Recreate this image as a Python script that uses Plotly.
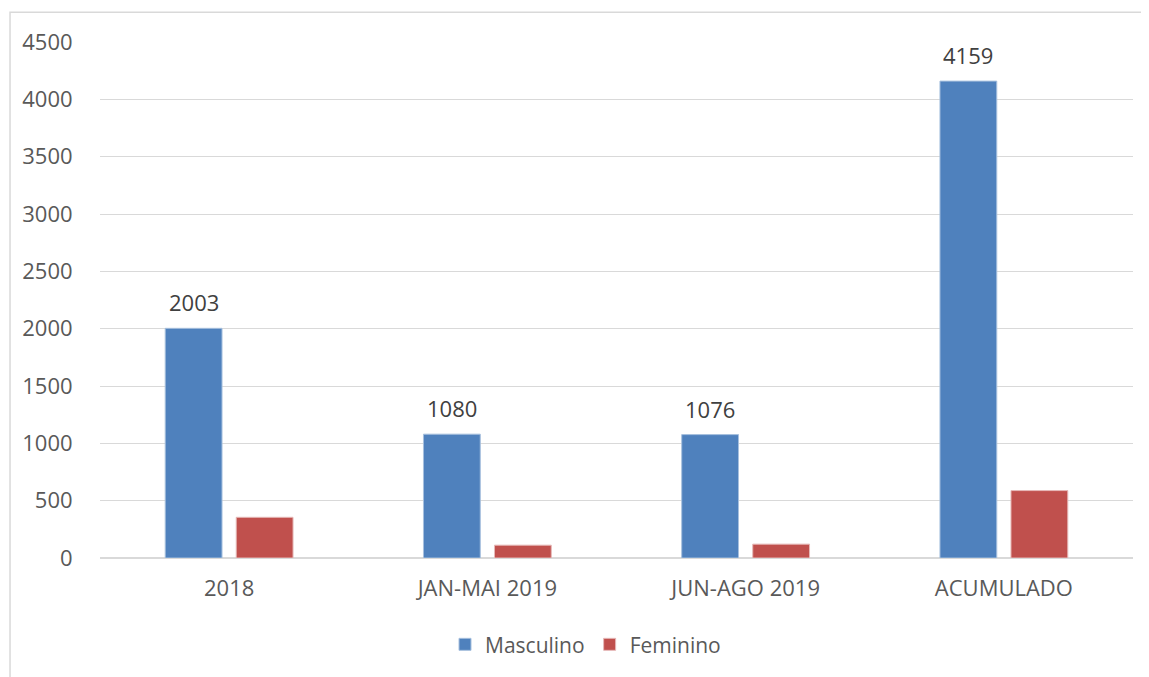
import plotly.graph_objects as go

categorias = ["2018", "JAN-MAI 2019", "JUN-AGO 2019", "ACUMULADO"]
masculino = [2003, 1080, 1076, 4159]
feminino = [355, 112, 121, 588]
y_ticks = [0, 500, 1000, 1500, 2000, 2500, 3000, 3500, 4000, 4500]

azul = "#4F81BD"
vermelho = "#C0504D"
cinza_texto = "#595959"
cinza_grade = "#D9D9D9"
fonte = "Open Sans"

fig = go.Figure()
fig.add_trace(go.Bar(
    x=categorias, y=masculino, name="Masculino",
    marker=dict(color=azul, line=dict(color="#A7C0DE", width=1)),
))
fig.add_trace(go.Bar(
    x=categorias, y=feminino, name="Feminino",
    marker=dict(color=vermelho, line=dict(color="#E6B9B8", width=1)),
))

# rótulos só na série masculina (x pelo índice da categoria: "2018" viraria número)
for i, val in enumerate(masculino):
    fig.add_annotation(
        x=i, y=val, text=str(val), showarrow=False,
        xshift=-35.5, yshift=26, xref="x", yref="y",
        font=dict(family=fonte, size=22, color="#404040"),
    )

fig.update_layout(
    width=1141, height=669,
    margin=dict(l=92, r=16, t=34, b=115),
    paper_bgcolor="white", plot_bgcolor="white",
    barmode="group", bargap=0.45, bargroupgap=0.2,
    font=dict(family=fonte, size=22, color=cinza_texto),
    showlegend=True,
    legend=dict(
        orientation="h", x=0.47, xanchor="center", y=-0.168, yanchor="middle",
        font=dict(family=fonte, size=21, color=cinza_texto),
        itemwidth=30, traceorder="normal",
    ),
    xaxis=dict(
        type="category", range=[-0.5, len(categorias) - 0.5],
        showgrid=False, showline=True, linecolor=cinza_grade, linewidth=1,
        ticks="outside", ticklen=11, tickcolor="rgba(0,0,0,0)",
        tickfont=dict(size=22, color=cinza_texto),
    ),
    yaxis=dict(
        range=[0, 4500], tickvals=y_ticks, showgrid=True, gridcolor=cinza_grade,
        gridwidth=1, zeroline=True, zerolinecolor=cinza_grade, showline=False,
        ticks="outside", ticklen=22, tickcolor="rgba(0,0,0,0)",
        tickfont=dict(size=22, color=cinza_texto),
    ),
    shapes=[dict(
        type="rect", xref="paper", yref="paper",
        x0=-0.0871, y0=-0.3, x1=1.1, y1=1.0577,
        line=dict(color=cinza_grade, width=1.5), fillcolor="rgba(0,0,0,0)",
        layer="below",
    )],
)

fig.write_html("out.html")
